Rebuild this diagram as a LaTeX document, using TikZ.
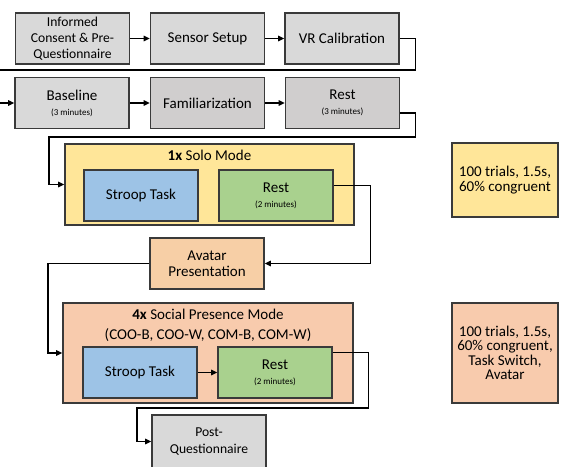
\documentclass[tikz,border=0pt]{standalone}
\usepackage{fontspec}
\setmainfont{Carlito}
\usetikzlibrary{arrows.meta}
\definecolor{gboxa}{HTML}{D9D9D9}
\definecolor{gboxb}{HTML}{D0CECE}
\definecolor{yelbox}{HTML}{FFE699}
\definecolor{bluebox}{HTML}{9DC3E6}
\definecolor{greenbox}{HTML}{A9D18E}
\definecolor{orbox}{HTML}{F8CBAD}
\definecolor{avbox}{HTML}{F7CFA6}
\definecolor{bordc}{HTML}{3A3A3A}
\newcommand{\smalltxt}[1]{{\fontsize{9}{10}\selectfont #1}}
\begin{document}
\begin{tikzpicture}[x=1pt,y=-1pt,
  box/.style={draw=bordc, line width=1.6pt, minimum width=114pt, minimum height=51pt, align=center, inner sep=1pt, font=\fontsize{15}{16}\selectfont},
  contbox/.style={draw=bordc, line width=1.6pt, inner sep=0pt},
  title/.style={inner sep=0pt, align=center, font=\fontsize{15}{20}\selectfont},
  notebox/.style={draw=bordc, line width=1.6pt, minimum width=106pt, align=center, inner sep=1pt, font=\fontsize{15}{14.5}\selectfont},
  conn/.style={line width=1.3pt, -{Triangle[length=6pt,width=5.5pt]}},
  plain/.style={line width=1.3pt}
]
\useasboundingbox (0,0) rectangle (562,466);

% row 1
\node[box, fill=gboxa, font=\fontsize{13.6}{16}\selectfont] (informed) at (72.5,38.5) {Informed\\Consent \& Pre-\\Questionnaire};
\node[box, fill=gboxa] (sensor) at (207.5,38.5) {Sensor Setup};
\node[box, fill=gboxa] (vr) at (342,38.5) {VR Calibration};

% row 2
\node[box, fill=gboxa] (baseline) at (72,103) {Baseline\\[-1pt]\smalltxt{(3 minutes)}};
\node[box, fill=gboxb] (famil) at (207.5,103) {Familiarization};
\node[box, fill=gboxb] (restA) at (342.5,103) {Rest\\[-1pt]\smalltxt{(3 minutes)}};

% solo mode
\node[contbox, fill=yelbox, minimum width=289pt, minimum height=81pt] (solo) at (209.5,184.5) {};
\node[title] (solotitle) at (209.5,155) {\textbf{1x} Solo Mode};
\node[box, fill=bluebox] (stroopA) at (141,195.5) {Stroop Task};
\node[box, fill=greenbox] (restB) at (276,195.5) {Rest\\[-1pt]\smalltxt{(2 minutes)}};

% avatar
\node[box, fill=avbox] (avatar) at (207,263.5) {Avatar\\Presentation};

% social presence mode
\node[contbox, fill=orbox, minimum width=290pt, minimum height=100pt] (social) at (208,353) {};
\node[title] (socialtitle) at (208,325) {\textbf{4x} Social Presence Mode\\(COO-B, COO-W, COM-B, COM-W)};
\node[box, fill=bluebox] (stroopB) at (140,372.5) {Stroop Task};
\node[box, fill=greenbox] (restC) at (275,372.5) {Rest\\[-1pt]\smalltxt{(2 minutes)}};

% post
\node[box, fill=gboxa, minimum height=53pt, font=\fontsize{13.6}{17}\selectfont] (post) at (209,441.5) {Post-\\Questionnaire};

% notes
\node[notebox, fill=yelbox, minimum height=74pt] (noteA) at (505,180) {100 trials, 1.5s,\\60\% congruent};
\node[notebox, fill=orbox, minimum height=100pt] (noteB) at (505,353) {100 trials, 1.5s,\\60\% congruent,\\Task Switch,\\Avatar};

% connectors
\coordinate (c1) at (-6,70);
\coordinate (c2) at (49,137);
\coordinate (c3) at (48,263.5);
\coordinate (c4) at (137,408);

\draw[conn] (informed) -- (sensor);
\draw[conn] (sensor) -- (vr);
\draw[conn] (vr.east) -- ++(16,0) |- (c1) |- (baseline.west);
\draw[conn] (baseline) -- (famil);
\draw[conn] (famil) -- (restA);
\draw[conn] ([yshift=-10pt]restA.east) -- ++(15,0) |- (c2) |- (solo.west);
\draw[conn] ([yshift=10pt]restB.east) -- ++(37,0) |- (avatar.east);
\draw[conn] (avatar.west) -- (c3) |- (social.west);
\draw[conn] (stroopB) -- (restC);
\draw[conn] ([yshift=20pt]restC.east) -- ++(36,0) |- (c4) |- (post.west);
\end{tikzpicture}
\end{document}
